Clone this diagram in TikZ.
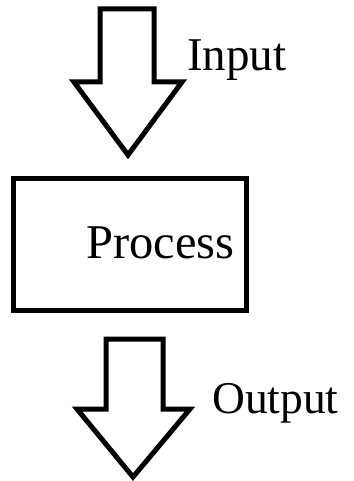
\documentclass[tikz,border=0pt]{standalone}
\usepackage{fontspec}
\setmainfont{Liberation Serif}
\begin{document}
\begin{tikzpicture}[x=1pt,y=-1pt,
  blockarrow/.style={draw=black,line width=5pt,miter limit=10,fill=white},
  procbox/.style={draw=black,line width=5pt,minimum width=233pt,minimum height=131.5pt,inner sep=0pt},
  lbl/.style={anchor=base west,inner sep=0pt,font=\fontsize{47}{50}\selectfont}]
\useasboundingbox (0,0) rectangle (353,481);
% input arrow
\draw[blockarrow] (100,9) -- (154,9) -- (154,82) -- (182,82) -- (128,155) -- (74,82) -- (100,82) -- cycle;
\node[lbl] (input) at (187,71) {Input};
% process box
\node[procbox] (process) at (130,244.25) {};
\node[lbl,font=\fontsize{48.5}{50}\selectfont] (proclabel) at (86,258) {Process};
% output arrow
\draw[blockarrow] (106,339) -- (163,339) -- (163,409) -- (190,409) -- (133,477) -- (77,409) -- (106,409) -- cycle;
\node[lbl,font=\fontsize{45.5}{50}\selectfont] (output) at (212,413) {Output};
\end{tikzpicture}
\end{document}
